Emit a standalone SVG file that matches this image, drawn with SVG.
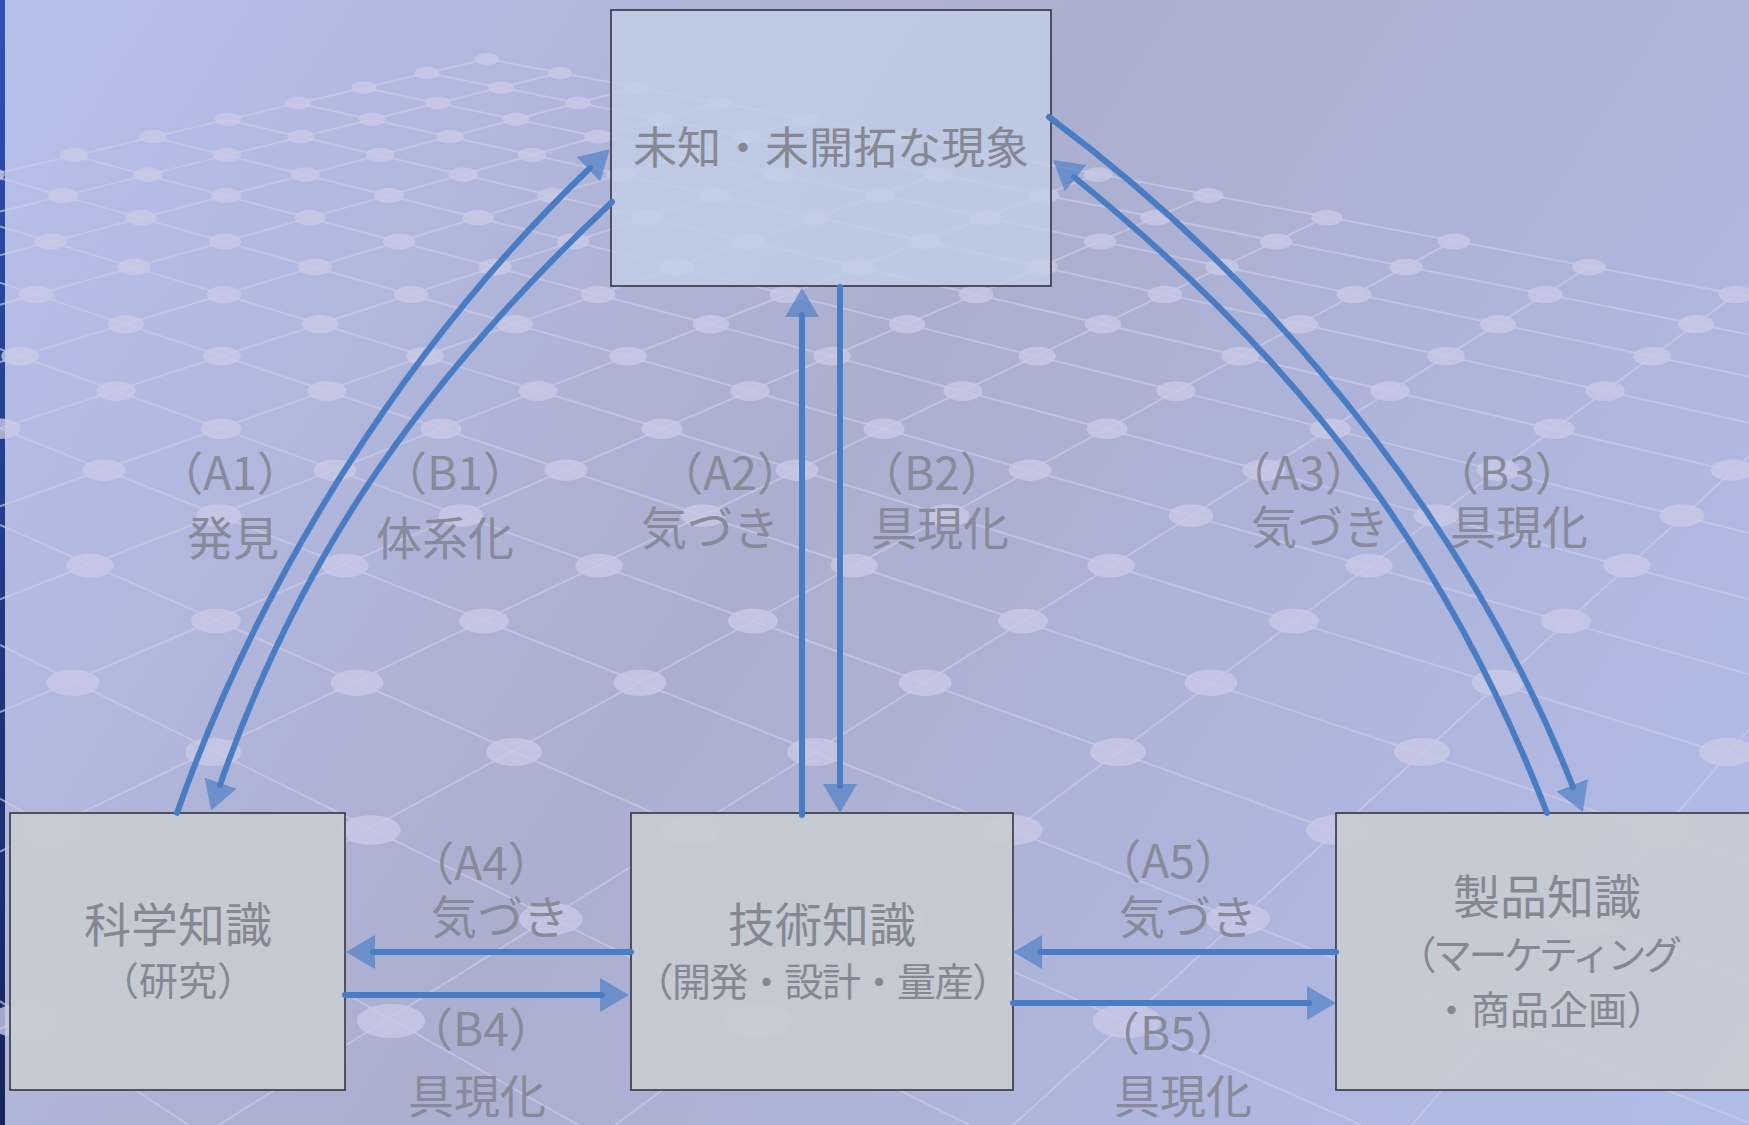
<svg xmlns="http://www.w3.org/2000/svg" width="1749" height="1125" viewBox="0 0 1749 1125">
<defs>
<linearGradient id="bg" x1="0" y1="0" x2="1749" y2="1125" gradientUnits="userSpaceOnUse">
<stop offset="0" stop-color="#b7c0ec"/>
<stop offset="0.45" stop-color="#abafcf"/>
<stop offset="1" stop-color="#b2bce9"/>
</linearGradient>
<linearGradient id="strip" x1="0" y1="0" x2="0" y2="1">
<stop offset="0" stop-color="#3050b4"/>
<stop offset="1" stop-color="#14245a"/>
</linearGradient>
<marker id="ah" viewBox="0 -17 29 34" refX="2" refY="0" markerWidth="29" markerHeight="34" markerUnits="userSpaceOnUse" orient="auto">
<path d="M0,-17 L29,0 L0,17 Z" fill="#4a7cc4" fill-opacity="0.65"/>
</marker>
</defs>
<style>
.grid line{stroke:#c9cae8;stroke-width:2;opacity:.7}
.grid ellipse{fill:#c9c9e6;opacity:.8}
.box{stroke:#2b2b35;stroke-width:1.5}
.top{fill:#c2cee6;fill-opacity:.8}
.bot{fill:#c8ccd1;fill-opacity:.9}
.t{font-family:"Noto Sans CJK JP","Noto Sans CJK SC",sans-serif;text-anchor:middle;fill:#858892}
.lbl{font-family:"Noto Sans CJK JP","Noto Sans CJK SC",sans-serif;font-size:46px;text-anchor:middle;fill:#878a99}
.conn path{fill:none;stroke:#4a7cc4;stroke-width:6;stroke-linecap:round;marker-end:url(#ah)}
</style>
<rect x="0" y="0" width="1749" height="1125" fill="url(#bg)"/>
<rect x="0" y="0" width="5" height="1125" fill="url(#strip)"/>
<g id="background-grid" class="grid">
<line x1="487" y1="59" x2="0" y2="172.9"/>
<line x1="560" y1="72.8" x2="0" y2="211.5"/>
<line x1="637.2" y1="87.3" x2="0" y2="255.2"/>
<line x1="718.7" y1="102.6" x2="0" y2="304.8"/>
<line x1="805.1" y1="118.9" x2="0" y2="362"/>
<line x1="896.7" y1="136.1" x2="0" y2="428.3"/>
<line x1="994" y1="154.4" x2="0" y2="506.3"/>
<line x1="1097.7" y1="174" x2="0" y2="599.4"/>
<line x1="1208.3" y1="194.8" x2="0" y2="712.2"/>
<line x1="1326.5" y1="217" x2="0" y2="851.6"/>
<line x1="1453.3" y1="240.9" x2="0" y2="1029.2"/>
<line x1="1589.4" y1="266.5" x2="218.6" y2="1125"/>
<line x1="1736.1" y1="294.1" x2="615.2" y2="1125"/>
<line x1="1749" y1="456.3" x2="1013.1" y2="1125"/>
<line x1="1749" y1="729.1" x2="1412" y2="1125"/>
<line x1="487" y1="59" x2="1749" y2="296.5"/>
<line x1="427.1" y1="73" x2="1749" y2="334.5"/>
<line x1="364" y1="87.8" x2="1749" y2="376.4"/>
<line x1="297.5" y1="103.3" x2="1749" y2="422.8"/>
<line x1="227.1" y1="119.8" x2="1749" y2="474.9"/>
<line x1="152.7" y1="137.2" x2="1749" y2="533.1"/>
<line x1="73.7" y1="155.7" x2="1749" y2="599.2"/>
<line x1="0" y1="178.2" x2="1749" y2="674.4"/>
<line x1="0" y1="226.4" x2="1749" y2="760.9"/>
<line x1="0" y1="282.8" x2="1749" y2="861.9"/>
<line x1="0" y1="349" x2="1749" y2="980.6"/>
<line x1="0" y1="428.4" x2="1749" y2="1122.9"/>
<line x1="0" y1="524.9" x2="1361.4" y2="1125"/>
<line x1="0" y1="645" x2="969.4" y2="1125"/>
<line x1="0" y1="798.5" x2="578.1" y2="1125"/>
<line x1="0" y1="1001.2" x2="188.6" y2="1125"/>
<ellipse cx="487" cy="59" rx="12" ry="6"/>
<ellipse cx="427" cy="73" rx="12.3" ry="6.2"/><ellipse cx="560" cy="73" rx="12.3" ry="6.2"/>
<ellipse cx="364" cy="87.5" rx="12.7" ry="6.3"/><ellipse cx="501" cy="87.5" rx="12.7" ry="6.3"/><ellipse cx="637" cy="87.5" rx="12.7" ry="6.3"/>
<ellipse cx="298" cy="103" rx="13" ry="6.5"/><ellipse cx="438" cy="103" rx="13" ry="6.5"/><ellipse cx="578" cy="103" rx="13" ry="6.5"/><ellipse cx="719" cy="103" rx="13" ry="6.5"/>
<ellipse cx="228" cy="119.3" rx="13.4" ry="6.7"/><ellipse cx="372" cy="119.3" rx="13.4" ry="6.7"/><ellipse cx="516" cy="119.3" rx="13.4" ry="6.7"/><ellipse cx="660" cy="119.3" rx="13.4" ry="6.7"/><ellipse cx="805" cy="119.3" rx="13.4" ry="6.7"/>
<ellipse cx="153" cy="136.7" rx="13.8" ry="6.9"/><ellipse cx="301" cy="136.7" rx="13.8" ry="6.9"/><ellipse cx="450" cy="136.7" rx="13.8" ry="6.9"/><ellipse cx="598" cy="136.7" rx="13.8" ry="6.9"/><ellipse cx="747" cy="136.7" rx="13.8" ry="6.9"/><ellipse cx="897" cy="136.7" rx="13.8" ry="6.9"/>
<ellipse cx="74" cy="155.1" rx="14.2" ry="7.1"/><ellipse cx="227" cy="155.1" rx="14.2" ry="7.1"/><ellipse cx="380" cy="155.1" rx="14.2" ry="7.1"/><ellipse cx="532" cy="155.1" rx="14.2" ry="7.1"/><ellipse cx="686" cy="155.1" rx="14.2" ry="7.1"/><ellipse cx="840" cy="155.1" rx="14.2" ry="7.1"/><ellipse cx="994" cy="155.1" rx="14.2" ry="7.1"/>
<ellipse cx="-10" cy="174.6" rx="14.7" ry="7.3"/><ellipse cx="148" cy="174.6" rx="14.7" ry="7.3"/><ellipse cx="305" cy="174.6" rx="14.7" ry="7.3"/><ellipse cx="463" cy="174.6" rx="14.7" ry="7.3"/><ellipse cx="621" cy="174.6" rx="14.7" ry="7.3"/><ellipse cx="779" cy="174.6" rx="14.7" ry="7.3"/><ellipse cx="938" cy="174.6" rx="14.7" ry="7.3"/><ellipse cx="1098" cy="174.6" rx="14.7" ry="7.3"/>
<ellipse cx="63" cy="195.5" rx="15.1" ry="7.6"/><ellipse cx="226" cy="195.5" rx="15.1" ry="7.6"/><ellipse cx="389" cy="195.5" rx="15.1" ry="7.6"/><ellipse cx="552" cy="195.5" rx="15.1" ry="7.6"/><ellipse cx="715" cy="195.5" rx="15.1" ry="7.6"/><ellipse cx="880" cy="195.5" rx="15.1" ry="7.6"/><ellipse cx="1044" cy="195.5" rx="15.1" ry="7.6"/><ellipse cx="1208" cy="195.5" rx="15.1" ry="7.6"/>
<ellipse cx="141" cy="217.7" rx="15.7" ry="7.8"/><ellipse cx="310" cy="217.7" rx="15.7" ry="7.8"/><ellipse cx="478" cy="217.7" rx="15.7" ry="7.8"/><ellipse cx="647" cy="217.7" rx="15.7" ry="7.8"/><ellipse cx="816" cy="217.7" rx="15.7" ry="7.8"/><ellipse cx="986" cy="217.7" rx="15.7" ry="7.8"/><ellipse cx="1156" cy="217.7" rx="15.7" ry="7.8"/><ellipse cx="1327" cy="217.7" rx="15.7" ry="7.8"/>
<ellipse cx="51" cy="241.5" rx="16.2" ry="8.1"/><ellipse cx="225" cy="241.5" rx="16.2" ry="8.1"/><ellipse cx="399" cy="241.5" rx="16.2" ry="8.1"/><ellipse cx="573" cy="241.5" rx="16.2" ry="8.1"/><ellipse cx="749" cy="241.5" rx="16.2" ry="8.1"/><ellipse cx="925" cy="241.5" rx="16.2" ry="8.1"/><ellipse cx="1100" cy="241.5" rx="16.2" ry="8.1"/><ellipse cx="1276" cy="241.5" rx="16.2" ry="8.1"/><ellipse cx="1454" cy="241.5" rx="16.2" ry="8.1"/>
<ellipse cx="134" cy="267.1" rx="16.8" ry="8.4"/><ellipse cx="315" cy="267.1" rx="16.8" ry="8.4"/><ellipse cx="495" cy="267.1" rx="16.8" ry="8.4"/><ellipse cx="677" cy="267.1" rx="16.8" ry="8.4"/><ellipse cx="859" cy="267.1" rx="16.8" ry="8.4"/><ellipse cx="1041" cy="267.1" rx="16.8" ry="8.4"/><ellipse cx="1222" cy="267.1" rx="16.8" ry="8.4"/><ellipse cx="1406" cy="267.1" rx="16.8" ry="8.4"/><ellipse cx="1589" cy="267.1" rx="16.8" ry="8.4"/>
<ellipse cx="36" cy="294.5" rx="17.4" ry="8.7"/><ellipse cx="224" cy="294.5" rx="17.4" ry="8.7"/><ellipse cx="411" cy="294.5" rx="17.4" ry="8.7"/><ellipse cx="598" cy="294.5" rx="17.4" ry="8.7"/><ellipse cx="787" cy="294.5" rx="17.4" ry="8.7"/><ellipse cx="976" cy="294.5" rx="17.4" ry="8.7"/><ellipse cx="1165" cy="294.5" rx="17.4" ry="8.7"/><ellipse cx="1354" cy="294.5" rx="17.4" ry="8.7"/><ellipse cx="1545" cy="294.5" rx="17.4" ry="8.7"/><ellipse cx="1736" cy="294.5" rx="17.4" ry="8.7"/>
<ellipse cx="126" cy="324.2" rx="18.1" ry="9.1"/><ellipse cx="320" cy="324.2" rx="18.1" ry="9.1"/><ellipse cx="515" cy="324.2" rx="18.1" ry="9.1"/><ellipse cx="711" cy="324.2" rx="18.1" ry="9.1"/><ellipse cx="907" cy="324.2" rx="18.1" ry="9.1"/><ellipse cx="1103" cy="324.2" rx="18.1" ry="9.1"/><ellipse cx="1300" cy="324.2" rx="18.1" ry="9.1"/><ellipse cx="1498" cy="324.2" rx="18.1" ry="9.1"/><ellipse cx="1696" cy="324.2" rx="18.1" ry="9.1"/>
<ellipse cx="20" cy="356.2" rx="18.8" ry="9.4"/><ellipse cx="222" cy="356.2" rx="18.8" ry="9.4"/><ellipse cx="425" cy="356.2" rx="18.8" ry="9.4"/><ellipse cx="628" cy="356.2" rx="18.8" ry="9.4"/><ellipse cx="832" cy="356.2" rx="18.8" ry="9.4"/><ellipse cx="1037" cy="356.2" rx="18.8" ry="9.4"/><ellipse cx="1240" cy="356.2" rx="18.8" ry="9.4"/><ellipse cx="1446" cy="356.2" rx="18.8" ry="9.4"/><ellipse cx="1652" cy="356.2" rx="18.8" ry="9.4"/>
<ellipse cx="116" cy="391" rx="19.6" ry="9.8"/><ellipse cx="327" cy="391" rx="19.6" ry="9.8"/><ellipse cx="538" cy="391" rx="19.6" ry="9.8"/><ellipse cx="750" cy="391" rx="19.6" ry="9.8"/><ellipse cx="963" cy="391" rx="19.6" ry="9.8"/><ellipse cx="1176" cy="391" rx="19.6" ry="9.8"/><ellipse cx="1390" cy="391" rx="19.6" ry="9.8"/><ellipse cx="1605" cy="391" rx="19.6" ry="9.8"/>
<ellipse cx="0" cy="428.8" rx="20.5" ry="10.3"/><ellipse cx="221" cy="428.8" rx="20.5" ry="10.3"/><ellipse cx="441" cy="428.8" rx="20.5" ry="10.3"/><ellipse cx="662" cy="428.8" rx="20.5" ry="10.3"/><ellipse cx="884" cy="428.8" rx="20.5" ry="10.3"/><ellipse cx="1107" cy="428.8" rx="20.5" ry="10.3"/><ellipse cx="1330" cy="428.8" rx="20.5" ry="10.3"/><ellipse cx="1554" cy="428.8" rx="20.5" ry="10.3"/>
<ellipse cx="104" cy="470.2" rx="21.5" ry="10.7"/><ellipse cx="335" cy="470.2" rx="21.5" ry="10.7"/><ellipse cx="566" cy="470.2" rx="21.5" ry="10.7"/><ellipse cx="797" cy="470.2" rx="21.5" ry="10.7"/><ellipse cx="1030" cy="470.2" rx="21.5" ry="10.7"/><ellipse cx="1264" cy="470.2" rx="21.5" ry="10.7"/><ellipse cx="1498" cy="470.2" rx="21.5" ry="10.7"/><ellipse cx="1732" cy="470.2" rx="21.5" ry="10.7"/>
<ellipse cx="219" cy="515.5" rx="22.5" ry="11.3"/><ellipse cx="461" cy="515.5" rx="22.5" ry="11.3"/><ellipse cx="703" cy="515.5" rx="22.5" ry="11.3"/><ellipse cx="947" cy="515.5" rx="22.5" ry="11.3"/><ellipse cx="1191" cy="515.5" rx="22.5" ry="11.3"/><ellipse cx="1436" cy="515.5" rx="22.5" ry="11.3"/><ellipse cx="1682" cy="515.5" rx="22.5" ry="11.3"/>
<ellipse cx="90" cy="565.6" rx="23.7" ry="11.8"/><ellipse cx="345" cy="565.6" rx="23.7" ry="11.8"/><ellipse cx="599" cy="565.6" rx="23.7" ry="11.8"/><ellipse cx="854" cy="565.6" rx="23.7" ry="11.8"/><ellipse cx="1111" cy="565.6" rx="23.7" ry="11.8"/><ellipse cx="1369" cy="565.6" rx="23.7" ry="11.8"/><ellipse cx="1627" cy="565.6" rx="23.7" ry="11.8"/>
<ellipse cx="216" cy="621" rx="24.9" ry="12.5"/><ellipse cx="484" cy="621" rx="24.9" ry="12.5"/><ellipse cx="753" cy="621" rx="24.9" ry="12.5"/><ellipse cx="1023" cy="621" rx="24.9" ry="12.5"/><ellipse cx="1294" cy="621" rx="24.9" ry="12.5"/><ellipse cx="1566" cy="621" rx="24.9" ry="12.5"/>
<ellipse cx="73" cy="682.7" rx="26.4" ry="13.2"/><ellipse cx="357" cy="682.7" rx="26.4" ry="13.2"/><ellipse cx="640" cy="682.7" rx="26.4" ry="13.2"/><ellipse cx="925" cy="682.7" rx="26.4" ry="13.2"/><ellipse cx="1211" cy="682.7" rx="26.4" ry="13.2"/><ellipse cx="1498" cy="682.7" rx="26.4" ry="13.2"/>
<ellipse cx="213" cy="752" rx="28" ry="14"/><ellipse cx="514" cy="752" rx="28" ry="14"/><ellipse cx="815" cy="752" rx="28" ry="14"/><ellipse cx="1118" cy="752" rx="28" ry="14"/><ellipse cx="1422" cy="752" rx="28" ry="14"/><ellipse cx="1727" cy="752" rx="28" ry="14"/>
<ellipse cx="51" cy="830.1" rx="29.8" ry="14.9"/><ellipse cx="371" cy="830.1" rx="29.8" ry="14.9"/><ellipse cx="691" cy="830.1" rx="29.8" ry="14.9"/><ellipse cx="1013" cy="830.1" rx="29.8" ry="14.9"/><ellipse cx="1336" cy="830.1" rx="29.8" ry="14.9"/><ellipse cx="1661" cy="830.1" rx="29.8" ry="14.9"/>
<ellipse cx="209" cy="919" rx="31.8" ry="15.9"/><ellipse cx="551" cy="919" rx="31.8" ry="15.9"/><ellipse cx="893" cy="919" rx="31.8" ry="15.9"/><ellipse cx="1238" cy="919" rx="31.8" ry="15.9"/><ellipse cx="1585" cy="919" rx="31.8" ry="15.9"/>
<ellipse cx="23" cy="1021" rx="34.2" ry="17.1"/><ellipse cx="391" cy="1021" rx="34.2" ry="17.1"/><ellipse cx="758" cy="1021" rx="34.2" ry="17.1"/><ellipse cx="1127" cy="1021" rx="34.2" ry="17.1"/><ellipse cx="1499" cy="1021" rx="34.2" ry="17.1"/>
</g>
<g id="node-unknown">
<rect class="box top" x="611" y="10" width="440" height="276"/>
<text class="t" x="831" y="164" font-size="44">未知・未開拓な現象</text>
</g>
<g id="node-science">
<rect class="box bot" x="10" y="813" width="335" height="277"/>
<text class="t" x="178" y="942" font-size="47">科学知識</text>
<text class="t" x="178" y="995" font-size="39">（研究）</text>
</g>
<g id="node-technology">
<rect class="box bot" x="631" y="813" width="382" height="277"/>
<text class="t" x="822" y="942" font-size="47">技術知識</text>
<text class="t" x="822" y="996" font-size="39" letter-spacing="-1.5">（開発・設計・量産）</text>
</g>
<g id="node-product">
<rect class="box bot" x="1336" y="813" width="430" height="277"/>
<text class="t" x="1547" y="914" font-size="47">製品知識</text>
<text class="t" x="1538" y="969" font-size="39" letter-spacing="-3.5">（マーケティング</text>
<text class="t" x="1549" y="1024" font-size="39">・商品企画）</text>
</g>
<g id="connectors" class="conn">
<g id="A1"><path d="M177,813 C260,577 409,341 590,168"/><text class="lbl" x="230" y="490">（A1）</text><text class="lbl" x="233" y="555">発見</text></g>
<g id="B1"><path d="M612,202 C430,373 302,549 220,785"/><text class="lbl" x="455" y="490">（B1）</text><text class="lbl" x="445" y="555">体系化</text></g>
<g id="A2"><path d="M802,815 L802,315"/><text class="lbl" x="730" y="490">（A2）</text><text class="lbl" x="710" y="545">気づき</text></g>
<g id="B2"><path d="M840,287 L840,786"/><text class="lbl" x="932" y="490">（B2）</text><text class="lbl" x="940" y="545">具現化</text></g>
<g id="A3"><path d="M1547,813 C1457,580 1323,379 1074,177"/><text class="lbl" x="1298" y="490">（A3）</text><text class="lbl" x="1320" y="544">気づき</text></g>
<g id="B3"><path d="M1049,117 C1305,308 1481,554 1573,787"/><text class="lbl" x="1507" y="490">（B3）</text><text class="lbl" x="1519" y="544">具現化</text></g>
<g id="A4"><path d="M631,952 L373,952"/><text class="lbl" x="481" y="880">（A4）</text><text class="lbl" x="500" y="934">気づき</text></g>
<g id="B4"><path d="M345,995 L602,995"/><text class="lbl" x="481" y="1046">（B4）</text><text class="lbl" x="477" y="1113">具現化</text></g>
<g id="A5"><path d="M1336,952 L1040,952"/><text class="lbl" x="1168" y="878">（A5）</text><text class="lbl" x="1188" y="934">気づき</text></g>
<g id="B5"><path d="M1013,1003 L1309,1003"/><text class="lbl" x="1168" y="1050">（B5）</text><text class="lbl" x="1183" y="1113">具現化</text></g>
</g>
</svg>
